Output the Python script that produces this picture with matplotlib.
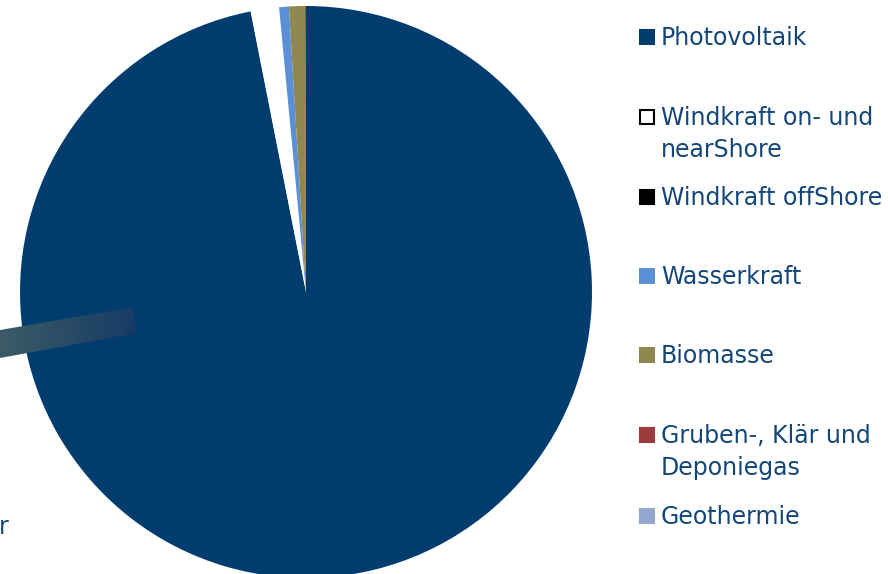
import matplotlib
matplotlib.use("Agg")
import matplotlib.pyplot as plt
import numpy as np
from matplotlib.patches import Polygon, Rectangle
from matplotlib.colors import LinearSegmentedColormap

# shares of the potential per energy source (%)
sources = [
    "Photovoltaik",
    "Windkraft on- und\nnearShore",
    "Windkraft offShore",
    "Wasserkraft",
    "Biomasse",
    "Gruben-, Klär und\nDeponiegas",
    "Geothermie",
]
shares = [96.9, 1.6, 0.0, 0.55, 0.9, 0.05, 0.0]
colors = ["#013c6e", "#ffffff", "#000000", "#5b8fd6", "#8f8650", "#9b3b3b", "#94a7cf"]

W, H = 888, 574
TEXT = "#134679"
FS = 17

fig = plt.figure(figsize=(W / 100, H / 100), dpi=100)
ax = fig.add_axes([0, 0, 1, 1])

ax.pie(shares, colors=colors, startangle=90, counterclock=False,
       center=(306, H - 292), radius=286,
       wedgeprops=dict(linewidth=0))

# callout band of a cut-off data label on the left
band = Polygon([(0, H - 330), (133, H - 307), (137, H - 333), (0, H - 358)],
               closed=True, facecolor="none", edgecolor="none")
ax.add_patch(band)
grad = LinearSegmentedColormap.from_list("band", ["#3b5c66", "#163a66"])
im = ax.imshow(np.linspace(0, 1, 256)[None, :], cmap=grad, aspect="auto",
               extent=(0, 137, H - 358, H - 307), zorder=3)
im.set_clip_path(band)
ax.text(-1, H - 534, "r", color=TEXT, fontsize=FS, ha="left", va="baseline")

# legend, drawn by hand to keep the uneven row spacing
legend_y = [36, 116, 196, 275, 354, 434, 515]
line_pitch = 32
for name, col, y in zip(sources, colors, legend_y):
    ax.add_patch(Rectangle((639.5, H - y - 7.5), 14, 14, facecolor=col,
                           edgecolor="black" if col == "#ffffff" else col,
                           linewidth=1.5))
    for i, line in enumerate(name.split("\n")):
        ax.text(661, H - (y + 9 + i * line_pitch), line, color=TEXT,
                fontsize=FS, ha="left", va="baseline")

ax.set_xlim(0, W)
ax.set_ylim(0, H)
ax.set_aspect("auto")
ax.axis("off")
fig.savefig("out.png", dpi=100)
